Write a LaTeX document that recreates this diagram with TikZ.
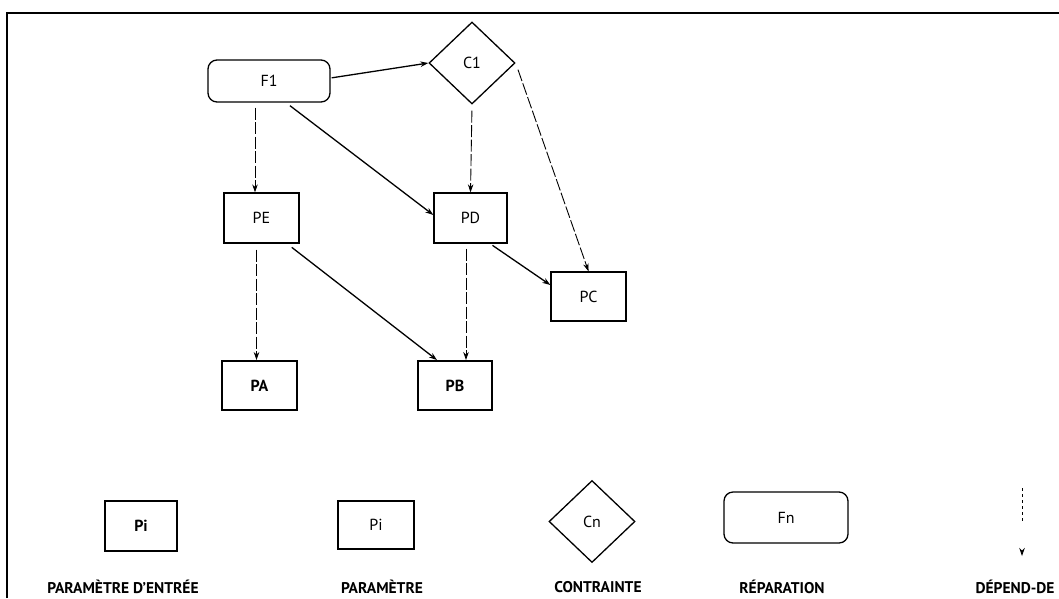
\documentclass[tikz,border=0pt]{standalone}
\usepackage{fontspec}
\setmainfont{PT Sans}
\usetikzlibrary{shapes.geometric,arrows.meta}
\begin{document}
\begin{tikzpicture}[x=1pt,y=-1pt,
  box/.style={draw,line width=1.3pt,inner sep=0pt,minimum width=75pt,minimum height=49pt,font=\fontsize{16}{16}\selectfont},
  inbox/.style={box,line width=1.9pt,font=\fontsize{16}{16}\selectfont\bfseries},
  func/.style={draw,line width=1.3pt,rounded corners=9pt,inner sep=0pt,minimum width=122pt,minimum height=42pt,font=\fontsize{16}{16}\selectfont},
  cons/.style={draw,diamond,line width=1.3pt,inner sep=0pt,minimum width=86pt,minimum height=82pt,font=\fontsize{16}{16}\selectfont},
  tip/.style={-{Stealth[length=8pt,width=5.5pt]}},
  dep/.style={tip,line width=0.9pt,dash pattern=on 12pt off 2.5pt},
  rel/.style={tip,line width=1.3pt},
  lbl/.style={font=\fontsize{15.5}{16}\selectfont\bfseries}
]
\useasboundingbox (0,0) rectangle (1059,598);
\draw[line width=1.6pt] (7,598) -- (7,13) -- (1059,13);

% graph nodes
\node[func] (F1) at (269,81) {F1};
\node[cons] (C1) at (472,63) {C1};
\node[box,minimum width=75pt,minimum height=50pt] (PE) at (261.5,218) {PE};
\node[box,minimum width=73pt,minimum height=50pt] (PD) at (470.5,218) {PD};
\node[box] (PC) at (588.5,296.5) {PC};
\node[inbox] (PA) at (259.5,385.5) {PA};
\node[inbox,minimum width=74pt] (PB) at (455,385.5) {PB};

% connectors
\draw[rel,shorten <=1pt] ([yshift=3pt]F1.east) -- (C1.west);
\draw[dep,shorten <=5pt] ([xshift=-14pt]F1.south) -- ([xshift=-6.5pt]PE.north);
\draw[rel,shorten <=5pt] ([xshift=17pt]F1.south) -- ([yshift=3pt]PD.west);
\draw[dep,shorten <=6pt] (C1.south) -- (PD.north);
\draw[dep,shorten <=7pt] (C1.east) -- (PC.north);
\draw[dep,shorten <=6pt] ([xshift=-5pt]PE.south) -- ([xshift=-3pt]PA.north);
\draw[rel,shorten <=6pt] ([xshift=25.5pt]PE.south) -- ([xshift=-18pt]PB.north);
\draw[dep,shorten <=5pt] ([xshift=-4.5pt]PD.south) -- ([xshift=11pt]PB.north);
\draw[rel,shorten <=3pt] ([xshift=19.5pt]PD.south) -- ([yshift=11.5pt]PC.west);

% legend
\node[inbox,minimum width=72pt,minimum height=50pt] (L1) at (141,526) {Pi};
\node[box,minimum width=76pt,minimum height=48pt] (L2) at (376,525) {Pi};
\node[cons] (L3) at (592,521.5) {Cn};
\node[func,minimum width=124pt,minimum height=51pt] (L4) at (786,517.5) {Fn};
\coordinate (D1) at (1022,488);
\coordinate (D2) at (1022,556);
\draw[tip,line width=0.9pt,dash pattern=on 3pt off 3pt on 3pt off 3pt on 3pt off 3pt on 3pt off 3pt on 3pt off 3pt on 3pt off 40pt] (D1) -- (D2);

\node[lbl] (T1) at (123,587) {PARAMÈTRE D'ENTRÉE};
\node[lbl] (T2) at (382,587) {PARAMÈTRE};
\node[lbl] (T3) at (598,587) {CONTRAINTE};
\node[lbl] (T4) at (782,587) {RÉPARATION};
\node[lbl] (T5) at (1015,587) {DÉPEND-DE};
\end{tikzpicture}
\end{document}
